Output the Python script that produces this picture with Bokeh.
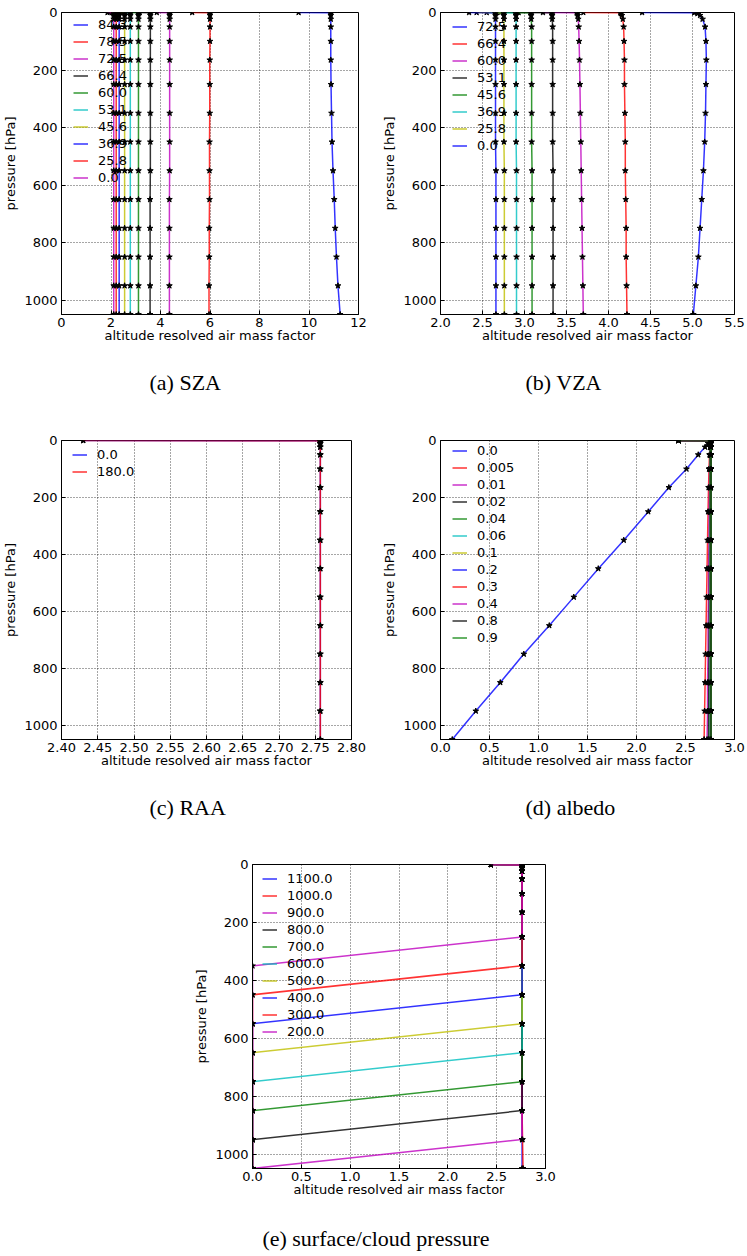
from bokeh.plotting import figure
from bokeh.layouts import column, row, Spacer
from bokeh.models import (Range1d, FixedTicker, NumeralTickFormatter, Title, Div,
                          Legend, LegendItem, ColumnDataSource)
from bokeh.embed import file_html
from bokeh.resources import INLINE

# model pressure levels [hPa]
pressure = [0, 1, 4, 10, 23, 50, 100, 165, 250, 350, 450, 550, 650, 750, 850, 950, 1050]

# (a) solar zenith angle
sza_labels = ["84.3", "78.5", "72.5", "66.4", "60.0", "53.1", "45.6", "36.9", "25.8", "0.0"]
amf_sza_84_3 = [9.58, 10.88, 10.88, 10.88, 10.88, 10.88, 10.88, 10.88, 10.89, 10.91, 10.93, 10.97, 11.02, 11.06, 11.11, 11.17, 11.26]
amf_sza_78_5 = [5.28, 6.00, 6.00, 6.00, 6.00, 6.00, 6.00, 5.99, 5.99, 5.99, 5.98, 5.98, 5.98, 5.97, 5.97, 5.96, 5.96]
amf_sza_72_5 = [3.85, 4.37, 4.37, 4.37, 4.37, 4.37, 4.37, 4.37, 4.37, 4.37, 4.37, 4.37, 4.36, 4.36, 4.36, 4.36, 4.36]
amf_sza_66_4 = [3.16, 3.59, 3.59, 3.59, 3.59, 3.59, 3.59, 3.59, 3.59, 3.59, 3.59, 3.59, 3.58, 3.58, 3.58, 3.58, 3.58]
amf_sza_60_0 = [2.74, 3.11, 3.11, 3.11, 3.11, 3.11, 3.11, 3.11, 3.11, 3.11, 3.11, 3.11, 3.11, 3.11, 3.11, 3.11, 3.11]
amf_sza_53_1 = [2.45, 2.78, 2.78, 2.78, 2.78, 2.78, 2.78, 2.78, 2.78, 2.78, 2.78, 2.78, 2.78, 2.78, 2.78, 2.78, 2.78]
amf_sza_45_6 = [2.25, 2.55, 2.55, 2.55, 2.55, 2.55, 2.55, 2.55, 2.55, 2.55, 2.55, 2.55, 2.55, 2.55, 2.55, 2.55, 2.55]
amf_sza_36_9 = [2.05, 2.33, 2.33, 2.33, 2.33, 2.33, 2.33, 2.33, 2.33, 2.33, 2.33, 2.33, 2.33, 2.33, 2.33, 2.33, 2.33]
amf_sza_25_8 = [1.95, 2.21, 2.21, 2.21, 2.21, 2.21, 2.21, 2.21, 2.21, 2.21, 2.21, 2.21, 2.21, 2.21, 2.21, 2.21, 2.21]
amf_sza_0_0 = [1.86, 2.11, 2.11, 2.11, 2.11, 2.11, 2.11, 2.11, 2.11, 2.11, 2.11, 2.11, 2.11, 2.11, 2.11, 2.11, 2.11]

# (b) viewing zenith angle
vza_labels = ["72.5", "66.4", "60.0", "53.1", "45.6", "36.9", "25.8", "0.0"]
amf_vza_72_5 = [4.40, 5.02, 5.06, 5.09, 5.12, 5.15, 5.16, 5.165, 5.16, 5.155, 5.145, 5.13, 5.11, 5.09, 5.07, 5.04, 5.01]
amf_vza_66_4 = [3.70, 4.14, 4.15, 4.16, 4.17, 4.18, 4.185, 4.19, 4.19, 4.195, 4.20, 4.20, 4.205, 4.21, 4.21, 4.215, 4.22]
amf_vza_60_0 = [3.22, 3.62, 3.63, 3.635, 3.64, 3.645, 3.65, 3.655, 3.66, 3.665, 3.67, 3.675, 3.68, 3.685, 3.69, 3.695, 3.70]
amf_vza_53_1 = [2.93, 3.32, 3.33, 3.33, 3.33, 3.335, 3.335, 3.335, 3.335, 3.335, 3.335, 3.34, 3.34, 3.34, 3.34, 3.34, 3.34]
amf_vza_45_6 = [2.71, 3.07, 3.08, 3.08, 3.08, 3.085, 3.085, 3.085, 3.085, 3.085, 3.085, 3.09, 3.09, 3.09, 3.09, 3.09, 3.09]
amf_vza_36_9 = [2.55, 2.89, 2.90, 2.90, 2.90, 2.90, 2.90, 2.90, 2.90, 2.90, 2.90, 2.905, 2.905, 2.905, 2.905, 2.905, 2.905]
amf_vza_25_8 = [2.43, 2.75, 2.755, 2.755, 2.755, 2.755, 2.755, 2.755, 2.755, 2.755, 2.755, 2.76, 2.76, 2.76, 2.76, 2.76, 2.76]
amf_vza_0_0 = [2.34, 2.65, 2.655, 2.655, 2.655, 2.655, 2.655, 2.655, 2.655, 2.655, 2.655, 2.66, 2.66, 2.66, 2.66, 2.66, 2.66]

# (c) relative azimuth angle
raa_labels = ["0.0", "180.0"]
amf_raa_0 = [2.43, 2.756, 2.757, 2.757, 2.757, 2.757, 2.757, 2.757, 2.757, 2.757, 2.757, 2.757, 2.757, 2.757, 2.757, 2.757, 2.757]
amf_raa_180 = [2.43, 2.756, 2.757, 2.757, 2.757, 2.757, 2.757, 2.757, 2.757, 2.757, 2.757, 2.757, 2.757, 2.757, 2.757, 2.757, 2.757]

# (d) surface albedo
alb_labels = ["0.0", "0.005", "0.01", "0.02", "0.04", "0.06", "0.1", "0.2", "0.3", "0.4", "0.8", "0.9"]
amf_alb_0_0 = [2.43, 2.745, 2.74, 2.73, 2.70, 2.63, 2.51, 2.33, 2.12, 1.87, 1.61, 1.36, 1.11, 0.85, 0.61, 0.36, 0.12]
amf_alb_0_005 = [2.43, 2.75, 2.75, 2.75, 2.75, 2.745, 2.74, 2.735, 2.73, 2.725, 2.72, 2.715, 2.71, 2.705, 2.70, 2.695, 2.69]
amf_alb_0_01 = [2.43, 2.75, 2.75, 2.75, 2.75, 2.75, 2.745, 2.745, 2.74, 2.74, 2.735, 2.735, 2.73, 2.73, 2.725, 2.725, 2.72]
amf_alb_0_02 = [2.43, 2.752, 2.752, 2.752, 2.752, 2.75, 2.75, 2.75, 2.748, 2.746, 2.745, 2.744, 2.742, 2.74, 2.738, 2.736, 2.735]
amf_alb_0_04 = [2.43, 2.754, 2.754, 2.754, 2.754, 2.753, 2.753, 2.752, 2.752, 2.751, 2.75, 2.75, 2.749, 2.748, 2.747, 2.746, 2.745]
amf_alb_0_06 = [2.43, 2.755, 2.755, 2.755, 2.755, 2.755, 2.754, 2.754, 2.754, 2.753, 2.753, 2.752, 2.752, 2.751, 2.751, 2.75, 2.75]
amf_alb_0_1 = [2.43, 2.756, 2.756, 2.756, 2.756, 2.756, 2.755, 2.755, 2.755, 2.755, 2.754, 2.754, 2.754, 2.753, 2.753, 2.753, 2.752]
amf_alb_0_2 = [2.43, 2.757, 2.757, 2.757, 2.757, 2.757, 2.757, 2.757, 2.756, 2.756, 2.756, 2.756, 2.756, 2.755, 2.755, 2.755, 2.755]
amf_alb_0_3 = [2.43, 2.757, 2.757, 2.757, 2.757, 2.757, 2.757, 2.757, 2.757, 2.757, 2.757, 2.757, 2.757, 2.757, 2.757, 2.757, 2.757]
amf_alb_0_4 = [2.43, 2.758, 2.758, 2.758, 2.758, 2.758, 2.758, 2.758, 2.758, 2.758, 2.758, 2.758, 2.758, 2.758, 2.758, 2.758, 2.758]
amf_alb_0_8 = [2.43, 2.76, 2.76, 2.76, 2.76, 2.76, 2.76, 2.76, 2.76, 2.76, 2.76, 2.76, 2.76, 2.76, 2.76, 2.76, 2.76]
amf_alb_0_9 = [2.43, 2.76, 2.76, 2.76, 2.76, 2.76, 2.76, 2.76, 2.76, 2.76, 2.76, 2.76, 2.76, 2.76, 2.76, 2.76, 2.76]

# (e) surface / cloud pressure [hPa]
cld_labels = ["1100.0", "1000.0", "900.0", "800.0", "700.0", "600.0", "500.0", "400.0", "300.0", "200.0"]
amf_cld_1100 = [2.44, 2.76, 2.76, 2.76, 2.76, 2.76, 2.76, 2.76, 2.76, 2.76, 2.76, 2.76, 2.76, 2.76, 2.76, 2.76, 2.76]
amf_cld_1000 = [2.44, 2.76, 2.76, 2.76, 2.76, 2.76, 2.76, 2.76, 2.76, 2.76, 2.76, 2.76, 2.76, 2.76, 2.76, 2.765, 2.77]
amf_cld_900 = [2.44, 2.76, 2.76, 2.76, 2.76, 2.76, 2.76, 2.76, 2.76, 2.76, 2.76, 2.76, 2.76, 2.76, 2.76, 2.76, 0.0]
amf_cld_800 = [2.44, 2.76, 2.76, 2.76, 2.76, 2.76, 2.76, 2.76, 2.76, 2.76, 2.76, 2.76, 2.76, 2.76, 2.76, 0.0, 0.0]
amf_cld_700 = [2.44, 2.76, 2.76, 2.76, 2.76, 2.76, 2.76, 2.76, 2.76, 2.76, 2.76, 2.76, 2.76, 2.76, 0.0, 0.0, 0.0]
amf_cld_600 = [2.44, 2.76, 2.76, 2.76, 2.76, 2.76, 2.76, 2.76, 2.76, 2.76, 2.76, 2.76, 2.76, 0.0, 0.0, 0.0, 0.0]
amf_cld_500 = [2.44, 2.76, 2.76, 2.76, 2.76, 2.76, 2.76, 2.76, 2.76, 2.76, 2.76, 2.76, 0.0, 0.0, 0.0, 0.0, 0.0]
amf_cld_400 = [2.44, 2.76, 2.76, 2.76, 2.76, 2.76, 2.76, 2.76, 2.76, 2.76, 2.76, 0.0, 0.0, 0.0, 0.0, 0.0, 0.0]
amf_cld_300 = [2.44, 2.76, 2.76, 2.76, 2.76, 2.76, 2.76, 2.76, 2.76, 2.76, 0.0, 0.0, 0.0, 0.0, 0.0, 0.0, 0.0]
amf_cld_200 = [2.44, 2.76, 2.76, 2.76, 2.76, 2.76, 2.76, 2.76, 2.76, 0.0, 0.0, 0.0, 0.0, 0.0, 0.0, 0.0, 0.0]

# line colour cycle (b, r, m, k, g, c, y)
color_cycle = ["#0000ff", "#ff0000", "#bf00bf", "#000000", "#008000", "#00bfbf", "#bfbf00"]

pressure_ticks = [0, 200, 400, 600, 800, 1000]

TICK_FONT = "DejaVu Sans"
CAPTION_FONT = "Liberation Serif"


def make_panel(series, labels, x_start, x_end, x_ticks, x_format, width, height,
               left, right, top, bottom, caption, cap_offset, legend_dx):
    p = figure(width=width, height=height, output_backend="svg", toolbar_location=None,
               x_range=Range1d(x_start, x_end), y_range=Range1d(1050, 0),
               min_border_left=left, min_border_right=right,
               min_border_top=top, min_border_bottom=bottom,
               background_fill_color="white", border_fill_color="white")
    p.outline_line_color = "black"
    p.outline_line_width = 1
    p.outline_line_alpha = 1

    p.xaxis.ticker = FixedTicker(ticks=x_ticks)
    p.xaxis.formatter = NumeralTickFormatter(format=x_format)
    p.yaxis.ticker = FixedTicker(ticks=pressure_ticks)
    p.xaxis.axis_label = "altitude resolved air mass factor"
    p.yaxis.axis_label = "pressure [hPa]"
    for ax in (p.xaxis[0], p.yaxis[0]):
        ax.axis_line_color = "black"
        ax.major_tick_in = 4
        ax.major_tick_out = 0
        ax.major_tick_line_color = "black"
        ax.minor_tick_line_color = None
        ax.major_label_text_font = TICK_FONT
        ax.major_label_text_font_size = "13px"
        ax.major_label_text_color = "black"
        ax.axis_label_text_font = TICK_FONT
        ax.axis_label_text_font_size = "13px"
        ax.axis_label_text_font_style = "normal"
        ax.axis_label_text_color = "black"
    p.xaxis.major_label_standoff = 3
    p.xaxis.axis_label_standoff = -2
    p.yaxis.major_label_standoff = 4
    p.yaxis.axis_label_standoff = 3

    for g in (p.xgrid[0], p.ygrid[0]):
        g.grid_line_color = "black"
        g.grid_line_alpha = 0.7
        g.grid_line_dash = "1 2"
        g.grid_line_width = 1
        g.ticker = FixedTicker(ticks=x_ticks if g.dimension == 0 else pressure_ticks)

    items = []
    for i, (vals, lab) in enumerate(zip(series, labels)):
        src = ColumnDataSource(dict(amf=vals, p=pressure))
        col = color_cycle[i % len(color_cycle)]
        r = p.line("amf", "p", source=src, line_color=col, line_width=1.5, line_alpha=0.8)
        p.scatter("amf", "p", source=src, marker="star", size=6,
                  fill_color="black", line_color="black")
        items.append(LegendItem(label=lab, renderers=[r]))

    frame_h = height - top - bottom
    row_h = 17
    leg_h = row_h * len(items)
    legend = Legend(items=items, location=(legend_dx, frame_h - 6 - leg_h),
                    padding=0, margin=0, spacing=0,
                    glyph_width=15, glyph_height=row_h, label_height=row_h,
                    label_standoff=10, label_text_font=TICK_FONT,
                    label_text_font_size="13px", label_text_color="black",
                    background_fill_alpha=0, border_line_alpha=0)
    p.add_layout(legend)

    if caption:
        cap = Title(text=caption, align="left", offset=cap_offset, standoff=44,
                    text_font=CAPTION_FONT, text_font_size="22px",
                    text_font_style="normal", text_color="black")
        p.add_layout(cap, "below")
    return p


fig_a = make_panel(
    [amf_sza_84_3, amf_sza_78_5, amf_sza_72_5, amf_sza_66_4, amf_sza_60_0,
     amf_sza_53_1, amf_sza_45_6, amf_sza_36_9, amf_sza_25_8, amf_sza_0_0],
    sza_labels, 0, 12, [0, 2, 4, 6, 8, 10, 12], "0",
    375, 420, 61, 17, 10, 106, "(a) SZA", 88, 12)

fig_b = make_panel(
    [amf_vza_72_5, amf_vza_66_4, amf_vza_60_0, amf_vza_53_1, amf_vza_45_6,
     amf_vza_36_9, amf_vza_25_8, amf_vza_0_0],
    vza_labels, 2.0, 5.5, [2.0, 2.5, 3.0, 3.5, 4.0, 4.5, 5.0, 5.5], "0.0",
    372, 420, 65, 13, 12, 106, "(b) VZA", 85, 12)

fig_c = make_panel(
    [amf_raa_0, amf_raa_180],
    raa_labels, 2.40, 2.80, [2.40, 2.45, 2.50, 2.55, 2.60, 2.65, 2.70, 2.75, 2.80], "0.00",
    375, 430, 61, 24, 20, 111, "(c) RAA", 88, 11)

fig_d = make_panel(
    [amf_alb_0_0, amf_alb_0_005, amf_alb_0_01, amf_alb_0_02, amf_alb_0_04, amf_alb_0_06,
     amf_alb_0_1, amf_alb_0_2, amf_alb_0_3, amf_alb_0_4, amf_alb_0_8, amf_alb_0_9],
    alb_labels, 0.0, 3.0, [0.0, 0.5, 1.0, 1.5, 2.0, 2.5, 3.0], "0.0",
    372, 430, 65, 13, 16, 111, "(d) albedo", 85, 12)

fig_e = make_panel(
    [amf_cld_1100, amf_cld_1000, amf_cld_900, amf_cld_800, amf_cld_700,
     amf_cld_600, amf_cld_500, amf_cld_400, amf_cld_300, amf_cld_200],
    cld_labels, 0.0, 3.0, [0.0, 0.5, 1.0, 1.5, 2.0, 2.5, 3.0], "0.0",
    370, 350, 61, 16, 14, 32, None, 0, 10)

# caption of the last panel sits in its own block below the figure
caption_e = Div(
    text=('<div style="padding-top:27px; font-family:\'Liberation Serif\'; '
          'font-size:22px; line-height:24px; text-align:center; width:370px; '
          'color:black;">(e) surface/cloud pressure</div>'),
    width=370, height=56, margin=0)

layout = column(
    row(fig_a, fig_b),
    row(fig_c, fig_d),
    row(Spacer(width=191, height=406), column(fig_e, caption_e)),
)

open("out.html", "w").write(file_html(layout, INLINE))
